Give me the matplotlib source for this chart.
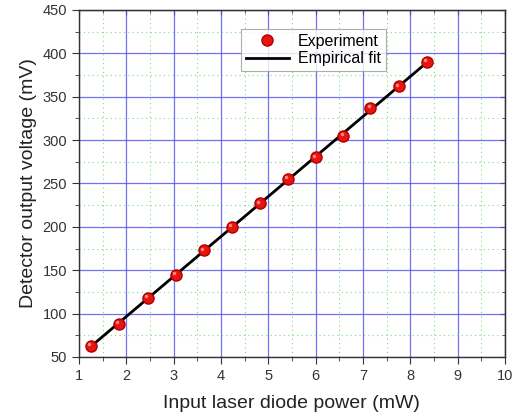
import matplotlib
matplotlib.use("Agg")
import matplotlib.pyplot as plt
import numpy as np
from matplotlib.ticker import MultipleLocator

plt.rcParams['font.family'] = ['Liberation Sans', 'DejaVu Sans']

# measured points
power_mw = [1.25, 1.85, 2.46, 3.05, 3.65, 4.24, 4.83, 5.42, 6.01, 6.59, 7.16, 7.76, 8.35]
voltage_mv = [63, 88, 118, 145, 173, 200, 227, 255, 280, 305, 337, 362, 390]

# straight-line fit over the measured range
slope, intercept = np.polyfit(power_mw, voltage_mv, 1)
fit_x = np.array([min(power_mw), max(power_mw)])
fit_y = slope * fit_x + intercept

fig = plt.figure(figsize=(5.12, 4.16), dpi=100)
ax = fig.add_axes([0.154, 0.142, 0.832, 0.834])

ax.plot(fit_x, fit_y, color='black', lw=2, label='Empirical fit', zorder=3)
ax.plot(power_mw, voltage_mv, 'o', color='#e8140f', markeredgecolor='#b00000',
        markersize=8, label='Experiment', zorder=4)
# little highlight to mimic the shaded balls
ax.plot(np.array(power_mw) - 0.04, np.array(voltage_mv) + 2, 'o', color='#ff8a80',
        markersize=2.5, markeredgewidth=0, zorder=5)

ax.set_xlim(1, 10)
ax.set_ylim(50, 450)
ax.xaxis.set_major_locator(MultipleLocator(1))
ax.xaxis.set_minor_locator(MultipleLocator(0.5))
ax.yaxis.set_major_locator(MultipleLocator(50))
ax.yaxis.set_minor_locator(MultipleLocator(25))

ax.grid(which='major', color='#4f4fee', lw=0.9, alpha=0.8)
ax.grid(which='minor', color='#77dd77', lw=0.8, linestyle=(0, (1, 3)))
ax.set_axisbelow(True)

ax.tick_params(which='both', direction='out', top=False, right=False, labelsize=10.5,
               colors='#333333')
ax.tick_params(which='major', length=5)
ax.tick_params(which='minor', length=3)
ax2 = ax.secondary_yaxis('right')
ax2.yaxis.set_major_locator(MultipleLocator(50))
ax2.yaxis.set_minor_locator(MultipleLocator(25))
ax2.tick_params(which='both', direction='in', labelright=False, colors='#333333')
ax3 = ax.secondary_xaxis('top')
ax3.xaxis.set_major_locator(MultipleLocator(1))
ax3.xaxis.set_minor_locator(MultipleLocator(0.5))
ax3.tick_params(which='both', direction='in', labeltop=False, colors='#333333')
for s in ax.spines.values():
    s.set_color('#333333')
    s.set_linewidth(1.0)

ax.set_xlabel('Input laser diode power (mW)', fontsize=14, color='#222222', labelpad=9)
ax.set_ylabel('Detector output voltage (mV)', fontsize=14, color='#222222', labelpad=4)

handles, labels = ax.get_legend_handles_labels()
leg = ax.legend(handles[::-1], labels[::-1], loc='upper left', bbox_to_anchor=(0.38, 0.945),
                borderaxespad=0, fontsize=11.5, frameon=True, fancybox=False,
                edgecolor='#999999', handlelength=2.7, handletextpad=0.6,
                borderpad=0.3, labelspacing=0.15)
leg.get_frame().set_linewidth(0.8)

fig.savefig('out.png', dpi=100)
